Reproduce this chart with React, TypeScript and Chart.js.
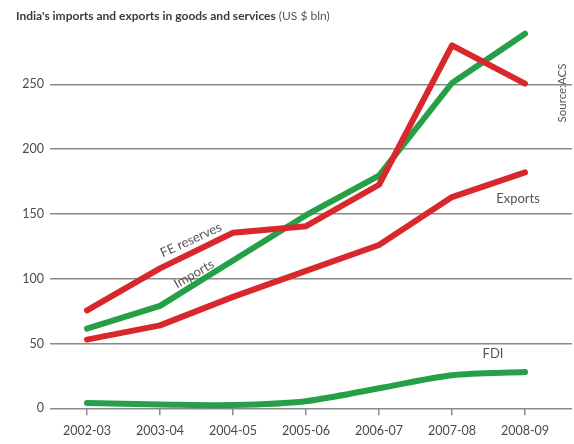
import React, { useEffect, useRef } from "react";
import { Chart, registerables } from "chart.js";

Chart.register(...registerables);

const categories = ["2002-03", "2003-04", "2004-05", "2005-06", "2006-07", "2007-08", "2008-09"];
const feReserves = [75.5, 108, 135.5, 140.5, 172.5, 280, 250.5];
const imports = [61.5, 79, 114, 149, 179.5, 251, 289];
const exportsVals = [53, 64, 86, 106, 126, 163, 182];
const fdi = [4, 3, 2.5, 5.5, 15.5, 25.5, 28];
const yTicks = [0, 50, 100, 150, 200, 250];

const RED = "#d8282b";
const GREEN = "#25a046";
const FONT = "Lato, 'Open Sans', sans-serif";

const textPlugin = {
  id: "texts",
  afterDraw(chart: any) {
    const ctx = chart.ctx;
    ctx.save();
    ctx.textBaseline = "middle";
    // Title
    ctx.textAlign = "left";
    ctx.font = `bold 12px ${FONT}`;
    ctx.fillStyle = "#3a3a3a";
    const t1 = "India's imports and exports in goods and services";
    ctx.fillText(t1, 16, 16);
    const w = ctx.measureText(t1).width;
    ctx.font = `12px ${FONT}`;
    ctx.fillStyle = "#555";
    ctx.fillText(" (US $ bln)", 16 + w, 16);

    ctx.fillStyle = "#555";
    ctx.font = `13px ${FONT}`;
    ctx.textAlign = "center";
    ctx.fillText("Exports", 518, 199);
    ctx.fillText("FDI", 493, 354);

    const rot = (txt: string, x: number, y: number, deg: number, size: number) => {
      ctx.save();
      ctx.translate(x, y);
      ctx.rotate((deg * Math.PI) / 180);
      ctx.font = `${size}px ${FONT}`;
      ctx.textAlign = "center";
      ctx.fillText(txt, 0, 0);
      ctx.restore();
    };
    rot("FE reserves", 191, 240, -24.6, 13);
    rot("Imports", 194, 274, -30, 13);
    rot("Source:ACS", 562, 93, -90, 11.5);
    ctx.restore();
  },
};

export default function App() {
  const ref = useRef<HTMLCanvasElement>(null);
  useEffect(() => {
    if (!ref.current) return;
    const mk = (label: string, vals: number[], color: string, tension = 0) => ({
      label,
      data: vals.map((v, i) => ({ x: i, y: v })),
      borderColor: color,
      backgroundColor: color,
      borderWidth: 6,
      pointRadius: 0,
      borderCapStyle: "round" as const,
      borderJoinStyle: "round" as const,
      tension,
      clip: false as any,
    });
    const chart = new Chart(ref.current, {
      type: "line",
      data: {
        datasets: [
          mk("FE reserves", feReserves, RED),
          mk("Exports", exportsVals, RED),
          mk("FDI", fdi, GREEN, 0.3),
          mk("Imports", imports, GREEN),
        ],
      },
      options: {
        animation: false,
        responsive: false,
        layout: { padding: { top: 19.5, right: 2, left: 0, bottom: 0 } },
        plugins: { legend: { display: false }, tooltip: { enabled: false } },
        scales: {
          x: {
            type: "linear",
            min: -0.507,
            max: 6.644,
            afterBuildTicks: (s: any) => {
              s.ticks = categories.map((_, i) => ({ value: i }));
            },
            afterFit: (s: any) => {
              s.height = 35.7;
            },
            grid: {
              drawOnChartArea: false,
              drawTicks: true,
              tickLength: 7,
              color: "#8a8a8a",
              lineWidth: 1.5,
            },
            border: { display: false },
            ticks: {
              padding: 8,
              color: "#4a4a4a",
              font: { family: FONT, size: 12.5 },
              maxRotation: 0,
              autoSkip: false,
              callback: (v: any) => categories[v as number] ?? "",
            },
          },
          y: {
            min: 0,
            max: 300,
            afterBuildTicks: (s: any) => {
              s.ticks = yTicks.map((v) => ({ value: v }));
            },
            afterFit: (s: any) => {
              s.width = 50;
            },
            grid: { color: "#8a8a8a", lineWidth: 1.5, drawTicks: false },
            border: { display: false },
            ticks: {
              padding: 6,
              color: "#4a4a4a",
              font: { family: FONT, size: 12.5 },
            },
          },
        },
      },
      plugins: [textPlugin],
    });
    return () => chart.destroy();
  }, []);
  return (
    <div style={{ position: "fixed", left: 0, top: 0, width: 574, height: 444, background: "#fff" }}>
      <canvas ref={ref} width={574} height={444} />
    </div>
  );
}
